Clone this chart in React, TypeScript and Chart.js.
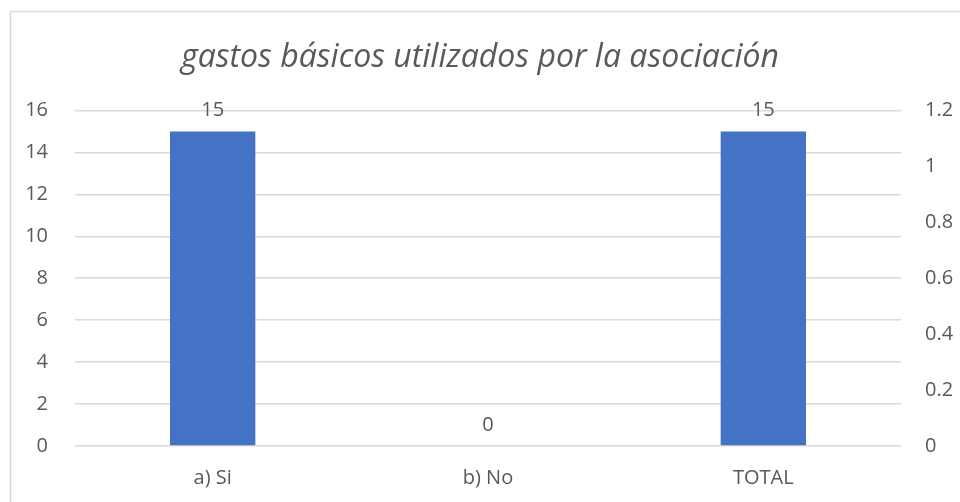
import React, { useEffect, useRef } from "react";
import { Chart, registerables } from "chart.js";

Chart.register(...registerables);

const categories = ["a) Si", "b) No", "TOTAL"];
const values = [15, 0, 15];
const titleText = "gastos básicos utilizados por la asociación";
const leftTicks = { min: 0, max: 16, step: 2 };
const rightTicks = { min: 0, max: 1.2, step: 0.2 };

const FONT = "'Open Sans', 'Noto Sans', sans-serif";
const TEXT = "#595959";
const TICK_SIZE = 20;

export default function App() {
  const ref = useRef<HTMLCanvasElement | null>(null);
  useEffect(() => {
    if (!ref.current) return;
    const borderPlugin = {
      id: "borderBox",
      beforeDraw(chart: any) {
        const ctx = chart.ctx;
        ctx.save();
        ctx.fillStyle = "#ffffff";
        ctx.fillRect(0, 0, chart.width, chart.height);
        ctx.strokeStyle = "#d9d9d9";
        ctx.lineWidth = 1.5;
        ctx.beginPath();
        ctx.moveTo(10.5, chart.height);
        ctx.lineTo(10.5, 11.5);
        ctx.lineTo(chart.width, 11.5);
        ctx.stroke();
        ctx.restore();
      },
    };
    const labelPlugin = {
      id: "valueLabels",
      afterDatasetsDraw(chart: any) {
        const ctx = chart.ctx;
        const meta = chart.getDatasetMeta(0);
        ctx.save();
        ctx.fillStyle = TEXT;
        ctx.font = `${TICK_SIZE}px ${FONT}`;
        ctx.textAlign = "center";
        ctx.textBaseline = "middle";
        meta.data.forEach((el: any, i: number) => {
          ctx.fillText(String(values[i]), el.x, el.y - 21);
        });
        ctx.restore();
      },
    };
    const chart = new Chart(ref.current, {
      type: "bar",
      data: {
        labels: categories,
        datasets: [
          {
            data: values,
            backgroundColor: "#4472C4",
            barPercentage: 0.31,
            categoryPercentage: 1,
            yAxisID: "y",
          },
        ],
      },
      options: {
        animation: false,
        responsive: false,
        maintainAspectRatio: false,
        layout: { padding: { left: 0, right: 0, top: 0, bottom: 0 } },
        plugins: {
          legend: { display: false },
          tooltip: { enabled: false },
          title: {
            display: true,
            text: titleText,
            color: TEXT,
            font: { family: FONT, size: 32, style: "italic", weight: "normal" },
            padding: { top: 39, bottom: 33 },
          },
        },
        scales: {
          x: {
            grid: { display: false, drawTicks: false },
            border: { display: false },
            ticks: { color: TEXT, font: { family: FONT, size: TICK_SIZE }, padding: 20 },
            afterFit(scale: any) {
              scale.height = 56;
            },
          },
          y: {
            position: "left",
            min: leftTicks.min,
            max: leftTicks.max,
            ticks: { stepSize: leftTicks.step, color: TEXT, font: { family: FONT, size: TICK_SIZE }, padding: 27 },
            grid: { color: "#d9d9d9", lineWidth: 1.5, drawTicks: false },
            border: { display: false },
            afterFit(scale: any) {
              scale.width = 75;
            },
          },
          y2: {
            position: "right",
            min: rightTicks.min,
            max: rightTicks.max,
            ticks: {
              stepSize: rightTicks.step,
              color: TEXT,
              font: { family: FONT, size: TICK_SIZE },
              padding: 24,
              callback: (v: any) => String(Number(Number(v).toFixed(1))),
            },
            grid: { display: false, drawTicks: false },
            border: { display: false },
            afterFit(scale: any) {
              scale.width = 59;
            },
          },
        },
      },
      plugins: [borderPlugin, labelPlugin],
    });
    return () => chart.destroy();
  }, []);
  return (
    <div style={{ position: "fixed", left: 0, top: 0, width: 960, height: 502 }}>
      <canvas ref={ref} width={960} height={502} style={{ display: "block" }} />
    </div>
  );
}
